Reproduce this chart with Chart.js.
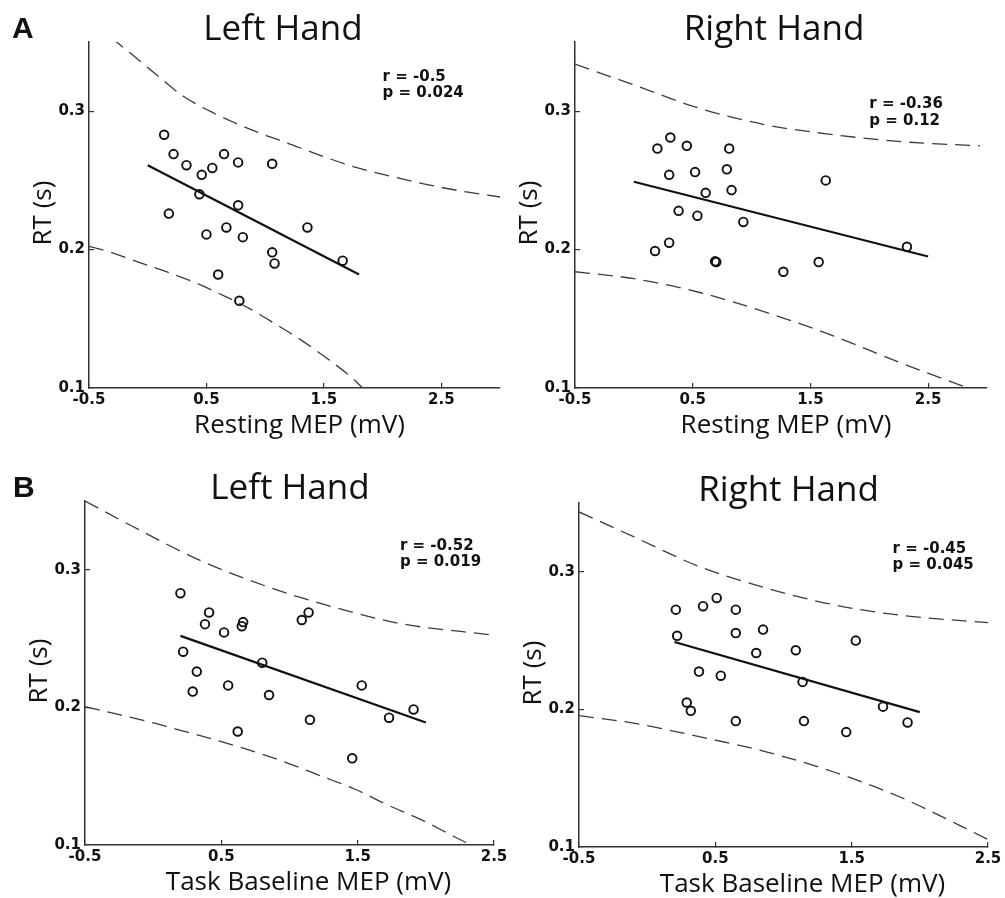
<!DOCTYPE html>
<html>
<head>
<meta charset="utf-8">
<script src="https://cdn.jsdelivr.net/npm/chart.js@4.4.1/dist/chart.umd.min.js"></script>
<style>
  body { margin: 0; background: #fff; }
  #fig { position: relative; width: 1005px; height: 898px; overflow: hidden; }
  canvas { position: absolute; }
</style>
</head>
<body>
<div id="fig">
  <canvas id="aLeft"></canvas>
  <canvas id="aRight"></canvas>
  <canvas id="bLeft"></canvas>
  <canvas id="bRight"></canvas>
</div>
<script>
// tick values shared by all panels
const xTicks = [-0.5, 0.5, 1.5, 2.5];
const yTicks = [0.1, 0.2, 0.3];

// A, left hand: resting MEP (mV) vs RT (s)
const restLeftMep = [0.14, 0.22, 0.33, 0.46, 0.55, 0.65, 0.77, 1.06, 0.44, 0.18, 0.77, 0.50, 0.67, 0.81, 1.36, 1.06, 1.08, 1.66, 0.60, 0.78];
const restLeftRt = [0.283, 0.269, 0.261, 0.254, 0.259, 0.269, 0.263, 0.262, 0.240, 0.226, 0.232, 0.211, 0.216, 0.209, 0.216, 0.198, 0.190, 0.192, 0.182, 0.163];
const restLeftFitX = [0, 1.8];
const restLeftFitY = [0.261, 0.182];
const restLeftUpX = [-0.31, -0.12, 0.08, 0.30, 0.53, 0.73, 0.96, 1.19, 1.44, 1.75, 2.07, 2.38, 2.69, 3.0];
const restLeftUpY = [0.353, 0.340, 0.326, 0.311, 0.300, 0.292, 0.284, 0.277, 0.269, 0.260, 0.253, 0.247, 0.242, 0.238];
const restLeftLoX = [-0.5, -0.30, -0.08, 0.17, 0.43, 0.63, 0.86, 1.08, 1.31, 1.54, 1.74, 1.83];
const restLeftLoY = [0.2023, 0.1977, 0.191, 0.1837, 0.1752, 0.1674, 0.1577, 0.1466, 0.1344, 0.1206, 0.1073, 0.100];

// A, right hand
const restRightMep = [0.31, 0.20, 0.45, 0.81, 0.30, 0.52, 0.79, 1.63, 0.61, 0.83, 0.38, 0.54, 0.93, 0.30, 0.18, 0.69, 0.70, 1.27, 1.57, 2.32];
const restRightRt = [0.281, 0.273, 0.275, 0.273, 0.254, 0.256, 0.258, 0.250, 0.241, 0.243, 0.228, 0.2245, 0.220, 0.205, 0.199, 0.1915, 0.191, 0.184, 0.191, 0.202];
const restRightFitX = [0, 2.5];
const restRightFitY = [0.249, 0.195];
const restRightUpX = [-0.5, 0.0, 0.56, 1.13, 1.70, 2.27, 2.94];
const restRightUpY = [0.334, 0.319, 0.302, 0.290, 0.283, 0.278, 0.275];
const restRightLoX = [-0.5, 0.0, 0.56, 1.13, 1.70, 2.27, 2.84];
const restRightLoY = [0.184, 0.179, 0.169, 0.1545, 0.1375, 0.118, 0.100];

// B, left hand: task baseline MEP (mV) vs RT (s)
const taskLeftMep = [0.20, 0.41, 0.38, 0.66, 0.65, 0.52, 1.09, 1.14, 0.22, 0.80, 0.32, 0.29, 0.55, 0.85, 1.53, 1.15, 0.62, 1.73, 1.91, 1.46];
const taskLeftRt = [0.283, 0.269, 0.2605, 0.262, 0.259, 0.2545, 0.2635, 0.269, 0.2405, 0.2325, 0.226, 0.2115, 0.216, 0.209, 0.216, 0.191, 0.1825, 0.1925, 0.1985, 0.163];
const taskLeftFitX = [0.2, 2.0];
const taskLeftFitY = [0.252, 0.189];
const taskLeftUpX = [-0.5, -0.15, 0.34, 0.83, 1.32, 1.81, 2.5];
const taskLeftUpY = [0.35, 0.3315, 0.307, 0.288, 0.273, 0.261, 0.2525];
const taskLeftLoX = [-0.5, -0.24, 0.01, 0.25, 0.50, 0.74, 0.99, 1.23, 1.48, 1.72, 1.97, 2.21, 2.33];
const taskLeftLoY = [0.2005, 0.1945, 0.1885, 0.182, 0.1751, 0.1679, 0.1594, 0.1502, 0.1405, 0.1291, 0.1182, 0.106, 0.100];

// B, right hand
const taskRightMep = [0.21, 0.41, 0.51, 0.65, 0.22, 0.65, 0.85, 1.53, 0.80, 1.09, 0.38, 0.54, 1.14, 0.29, 0.32, 0.65, 1.15, 1.73, 1.91, 1.46];
const taskRightRt = [0.2725, 0.275, 0.281, 0.2725, 0.2535, 0.2555, 0.258, 0.250, 0.241, 0.243, 0.2275, 0.2245, 0.220, 0.205, 0.199, 0.1915, 0.1915, 0.202, 0.1905, 0.1835];
const taskRightFitX = [0.2, 2.0];
const taskRightFitY = [0.249, 0.198];
const taskRightUpX = [-0.5, -0.10, 0.39, 0.88, 1.37, 1.85, 2.5];
const taskRightUpY = [0.3435, 0.3255, 0.3035, 0.288, 0.276, 0.2685, 0.263];
const taskRightLoX = [-0.5, -0.10, 0.39, 0.88, 1.37, 1.85, 2.5];
const taskRightLoY = [0.1955, 0.190, 0.180, 0.169, 0.1545, 0.1365, 0.1055];

const statR = ['-0.5', '-0.36', '-0.52', '-0.45'];
const statP = ['0.024', '0.12', '0.019', '0.045'];

const Y_W = 60;  // fixed y axis box width
const X_H = 50;  // fixed x axis box height
const INK = '#111';
const AXIS = '#333';
const DASH = '#3c3c3c';

const pts = (xs, ys) => xs.map((x, i) => ({ x, y: ys[i] }));

// titles, axis labels and the r/p text
const textLayer = {
  id: 'textLayer',
  afterDraw(chart, args, o) {
    const { ctx, chartArea: a, scales } = chart;
    ctx.save();
    ctx.fillStyle = INK;
    ctx.textBaseline = 'alphabetic';
    if (o.letter) {
      ctx.font = 'bold 30px "Liberation Sans"';
      ctx.textAlign = 'left';
      ctx.fillText(o.letter, o.letterX, o.letterY);
    }
    ctx.textAlign = 'center';
    ctx.font = '35px "Open Sans"';
    ctx.fillText(o.title, o.titleX, a.top - 2.5);
    ctx.font = '26px "Open Sans"';
    ctx.fillText(o.xLabel, (a.left + a.right) / 2 + o.xLabelShift, a.bottom + 45);
    ctx.save();
    ctx.translate(a.left - 38, (a.top + a.bottom) / 2 - 2);
    ctx.rotate(-Math.PI / 2);
    ctx.fillText('RT (s)', 0, 0);
    ctx.restore();
    ctx.font = 'bold 15px "DejaVu Sans"';
    ctx.textAlign = 'left';
    const sx = scales.x.getPixelForValue(o.statX);
    const sy = scales.y.getPixelForValue(o.statY);
    ctx.fillText('r = ' + o.r, sx, sy);
    ctx.fillText('p = ' + o.p, sx, sy + 16.5);
    ctx.restore();
  }
};

const axisStyle = (ticks) => ({
  border: { display: true, color: AXIS, width: 1.5 },
  grid: { display: true, drawOnChartArea: false, drawTicks: true, tickLength: -5, color: AXIS, lineWidth: 1.2 },
  afterBuildTicks: (s) => { s.ticks = ticks.map((v) => ({ value: v })); },
});

const bandStyle = {
  type: 'line',
  borderColor: DASH,
  borderWidth: 1.3,
  borderDash: [15, 8],
  pointRadius: 0,
  cubicInterpolationMode: 'monotone',
};

const makePanel = (p) => {
  const el = document.getElementById(p.id);
  el.width = p.box.w;
  el.height = p.box.h;
  el.style.left = p.box.left + 'px';
  el.style.top = p.box.top + 'px';
  const a = p.area;

  new Chart(el, {
    type: 'scatter',
    data: {
      datasets: [
        {
          data: pts(p.mep, p.rt),
          pointStyle: 'circle',
          pointRadius: 4.3,
          pointBorderWidth: 1.9,
          borderColor: INK,
          backgroundColor: 'rgba(0,0,0,0)',
        },
        {
          type: 'line',
          data: pts(p.fitX, p.fitY),
          borderColor: INK,
          borderWidth: 2.2,
          pointRadius: 0,
        },
        { ...bandStyle, data: pts(p.upX, p.upY) },
        { ...bandStyle, data: pts(p.loX, p.loY) },
      ],
    },
    options: {
      responsive: false,
      animation: false,
      devicePixelRatio: 1,
      events: [],
      layout: {
        padding: {
          left: a.l - Y_W,
          right: p.box.w - a.r,
          top: a.t,
          bottom: p.box.h - a.b - X_H,
        },
      },
      plugins: {
        legend: { display: false },
        tooltip: { enabled: false },
        textLayer: p.text,
      },
      scales: {
        x: {
          type: 'linear',
          min: -0.5,
          max: p.xMax,
          ...axisStyle(xTicks),
          ticks: {
            color: INK,
            padding: 8,
            maxRotation: 0,
            autoSkip: false,
            font: { family: 'DejaVu Sans', size: 15, weight: 'bold' },
            callback: (v) => String(v),
          },
          afterFit: (s) => { s.height = X_H; s.paddingLeft = 0; s.paddingRight = 0; },
        },
        y: {
          type: 'linear',
          min: 0.1,
          max: 0.35,
          ...axisStyle(yTicks),
          ticks: {
            color: INK,
            padding: 9,
            autoSkip: false,
            font: { family: 'DejaVu Sans', size: 15, weight: 'bold' },
            callback: (v) => String(v),
          },
          afterFit: (s) => { s.width = Y_W; s.paddingTop = 0; s.paddingBottom = 0; },
        },
      },
    },
    plugins: [textLayer],
  });
};

const panels = [
  {
    id: 'aLeft', box: { left: 0, top: 0, w: 520, h: 440 }, area: { l: 89, r: 500, t: 42, b: 388 }, xMax: 3.0,
    mep: restLeftMep, rt: restLeftRt, fitX: restLeftFitX, fitY: restLeftFitY,
    upX: restLeftUpX, upY: restLeftUpY, loX: restLeftLoX, loY: restLeftLoY,
    text: { letter: 'A', letterX: 12, letterY: 38, title: 'Left Hand', titleX: 283, xLabel: 'Resting MEP (mV)', xLabelShift: 5, statX: 2.0, statY: 0.322, r: statR[0], p: statP[0] },
  },
  {
    id: 'aRight', box: { left: 505, top: 0, w: 500, h: 440 }, area: { l: 70, r: 482, t: 42, b: 388 }, xMax: 3.0,
    mep: restRightMep, rt: restRightRt, fitX: restRightFitX, fitY: restRightFitY,
    upX: restRightUpX, upY: restRightUpY, loX: restRightLoX, loY: restRightLoY,
    text: { title: 'Right Hand', titleX: 269, xLabel: 'Resting MEP (mV)', xLabelShift: 5, statX: 2.0, statY: 0.302, r: statR[1], p: statP[1] },
  },
  {
    id: 'bLeft', box: { left: 0, top: 440, w: 520, h: 458 }, area: { l: 85, r: 494, t: 61, b: 405 }, xMax: 2.5,
    mep: taskLeftMep, rt: taskLeftRt, fitX: taskLeftFitX, fitY: taskLeftFitY,
    upX: taskLeftUpX, upY: taskLeftUpY, loX: taskLeftLoX, loY: taskLeftLoY,
    text: { letter: 'B', letterX: 13, letterY: 57, title: 'Left Hand', titleX: 290, xLabel: 'Task Baseline MEP (mV)', xLabelShift: 19, statX: 1.81, statY: 0.3145, r: statR[2], p: statP[2] },
  },
  {
    id: 'bRight', box: { left: 505, top: 440, w: 500, h: 458 }, area: { l: 74, r: 483, t: 63, b: 407 }, xMax: 2.5,
    mep: taskRightMep, rt: taskRightRt, fitX: taskRightFitX, fitY: taskRightFitY,
    upX: taskRightUpX, upY: taskRightUpY, loX: taskRightLoX, loY: taskRightLoY,
    text: { title: 'Right Hand', titleX: 283.5, xLabel: 'Task Baseline MEP (mV)', xLabelShift: 19, statX: 1.80, statY: 0.314, r: statR[3], p: statP[3] },
  },
];

panels.forEach(makePanel);
</script>
</body>
</html>
